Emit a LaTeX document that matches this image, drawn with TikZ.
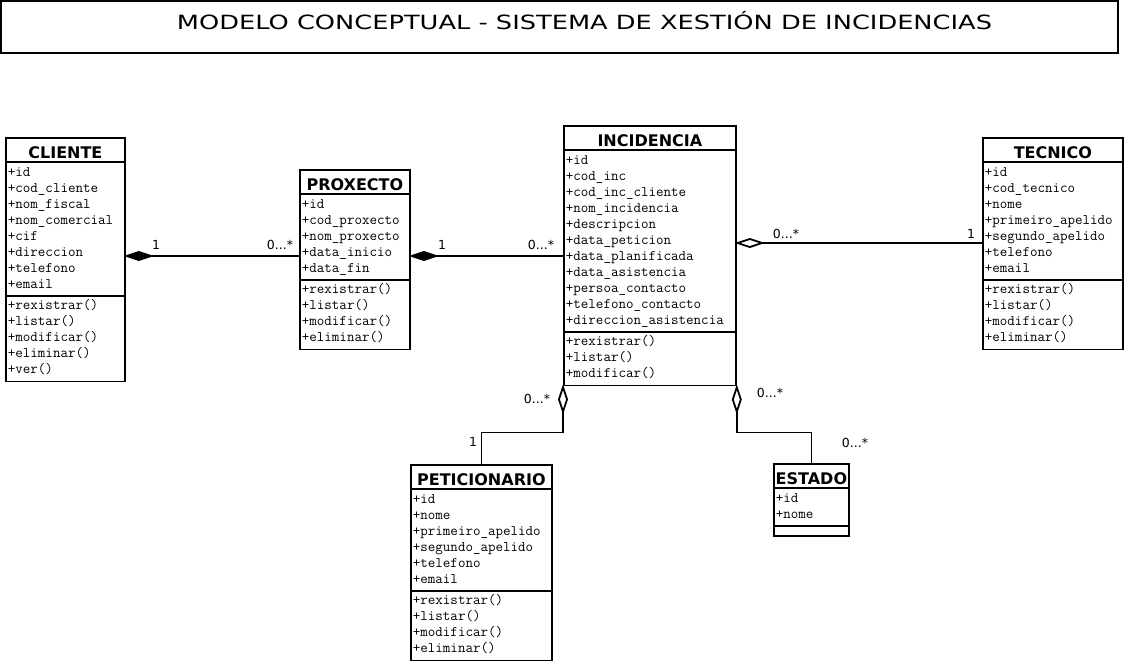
\documentclass[tikz,border=0pt]{standalone}
\usepackage{fontspec}
\usetikzlibrary{shapes.multipart,arrows.meta}
\newfontfamily\titlefont[FakeStretch=1.31]{DejaVu Sans}
\newfontfamily\namefont{DejaVu Sans}
\newfontfamily\attrfont{Latin Modern Mono}
\newfontfamily\lblfont{DejaVu Sans}
\newcommand{\cname}[1]{\makebox[\hsize]{\namefont\bfseries\fontsize{16}{20}\selectfont\rule{0pt}{18pt}#1}}
\begin{document}
\begin{tikzpicture}[x=1pt, y=-1pt, line width=1.8pt,
    umlclass/.style={draw, rectangle split, rectangle split parts=3,
      rectangle split ignore empty parts=false, rectangle split empty part height=4pt,
      anchor=north west, inner xsep=2pt, inner ysep=2pt, align=left,
      font=\attrfont\fontsize{14.6}{16}\selectfont},
    lbl/.style={font=\lblfont\fontsize{12.5}{14}\selectfont, inner sep=0pt},
    comp/.style={{Diamond[length=30pt,width=10pt]}-, shorten <=-2pt},
    agg/.style={{Diamond[open,length=30pt,width=10pt]}-, shorten <=-2pt}]
  \useasboundingbox (0,0) rectangle (1125,662);
  \draw (1,1) rectangle (1118,53);
  \node[anchor=base, font=\titlefont\fontsize{19.6}{24}\selectfont] (titulo) at (584.5,29.2)
    {MODELO CONCEPTUAL - SISTEMA DE XESTIÓN DE INCIDENCIAS};

  \node[umlclass, text width=115pt] (cliente) at (5,137)
    {\cname{CLIENTE}
     \nodepart{two}\strut+id\\+cod\_cliente\\+nom\_fiscal\\+nom\_comercial\\+cif\\+direccion\\+telefono\\+email\strut
     \nodepart{three}\strut+rexistrar()\\+listar()\\+modificar()\\+eliminar()\\+ver()\strut};
  \node[umlclass, text width=106pt] (proxecto) at (299,169)
    {\cname{PROXECTO}
     \nodepart{two}\strut+id\\+cod\_proxecto\\+nom\_proxecto\\+data\_inicio\\+data\_fin\strut
     \nodepart{three}\strut+rexistrar()\\+listar()\\+modificar()\\+eliminar()\strut};
  \node[umlclass, text width=168pt] (incidencia) at (563,125)
    {\cname{INCIDENCIA}
     \nodepart{two}\strut+id\\+cod\_inc\\+cod\_inc\_cliente\\+nom\_incidencia\\+descripcion\\+data\_peticion\\+data\_planificada\\+data\_asistencia\\+persoa\_contacto\\+telefono\_contacto\\+direccion\_asistencia\strut
     \nodepart{three}\strut+rexistrar()\\+listar()\\+modificar()\strut};
  \node[umlclass, text width=136pt] (tecnico) at (982,137)
    {\cname{TECNICO}
     \nodepart{two}\strut+id\\+cod\_tecnico\\+nome\\+primeiro\_apelido\\+segundo\_apelido\\+telefono\\+email\strut
     \nodepart{three}\strut+rexistrar()\\+listar()\\+modificar()\\+eliminar()\strut};
  \node[umlclass, text width=137pt] (peticionario) at (410,464)
    {\cname{PETICIONARIO}
     \nodepart{two}\strut+id\\+nome\\+primeiro\_apelido\\+segundo\_apelido\\+telefono\\+email\strut
     \nodepart{three}\strut+rexistrar()\\+listar()\\+modificar()\\+eliminar()\strut};
  \node[umlclass, text width=71pt] (estado) at (773,463)
    {\cname{ESTADO}
     \nodepart{two}\strut+id\\+nome\strut};

  \draw[comp] (cliente.east |- 0,256) -- (proxecto.west |- 0,256);
  \draw[comp] (proxecto.east |- 0,256) -- (incidencia.west |- 0,256);
  \draw[agg] (incidencia.east |- 0,243) -- (tecnico.west |- 0,243);
  \draw[agg] (incidencia.south west) -- ++(0,46) -| (peticionario.north);
  \draw[agg] (incidencia.south east) -- ++(0,46) -| (estado.north);

  \node[lbl] (cli1) at (156,245) {1};
  \node[lbl] (pro0) at (280,245) {0...*};
  \node[lbl] (pro1) at (442,245) {1};
  \node[lbl] (inc0) at (541,245) {0...*};
  \node[lbl] (tec0) at (786,234) {0...*};
  \node[lbl] (tec1) at (971,234) {1};
  \node[lbl] (pet0) at (537,399) {0...*};
  \node[lbl] (pet1) at (473,442) {1};
  \node[lbl] (est0) at (770,393) {0...*};
  \node[lbl] (est1) at (855,443) {0...*};
\end{tikzpicture}
\end{document}
